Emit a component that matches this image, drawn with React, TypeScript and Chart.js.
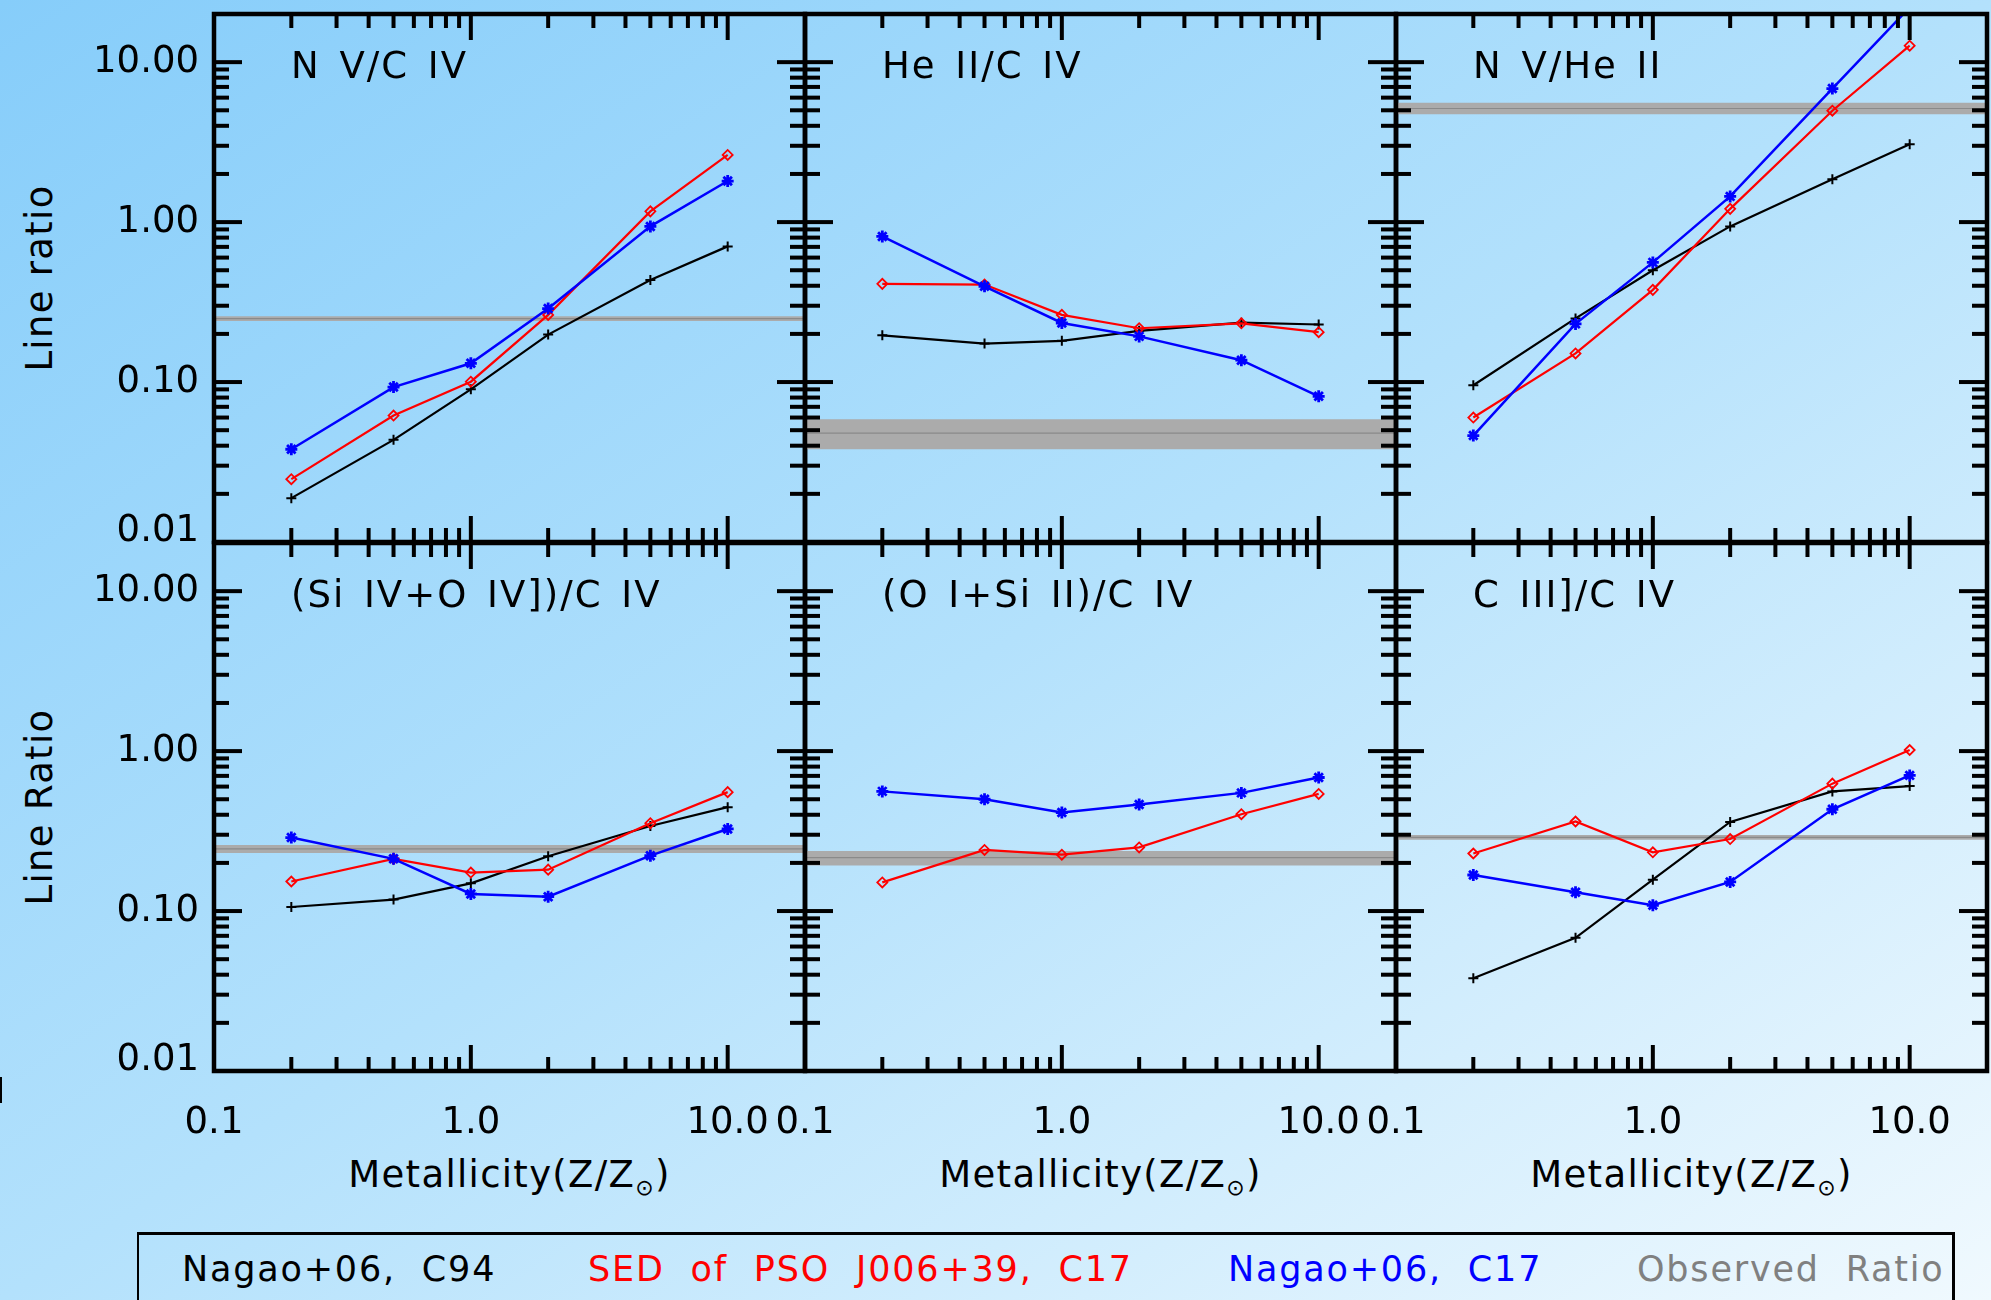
import React, { useEffect, useRef } from 'react';
import { Chart, registerables } from 'chart.js';

Chart.register(...registerables);

const FONT = '"DejaVu Sans", "Noto Sans", sans-serif';
const WEIGHT = 400;

// ---------- data ----------
const METALLICITY = [0.2, 0.5, 1.0, 2.0, 5.0, 10.0];

const X_MIN = 0.1;
const X_MAX = 20;
const Y_MIN = 0.01;
const Y_MAX = 20;

const X_TICKS = [0.1, 0.2, 0.3, 0.4, 0.5, 0.6, 0.7, 0.8, 0.9, 1, 2, 3, 4, 5, 6, 7, 8, 9, 10];
const X_MAJOR = [0.1, 1, 10];
const X_MAJOR_LABELS = ['0.1', '1.0', '10.0'];

const Y_TICKS = [
  0.01, 0.02, 0.03, 0.04, 0.05, 0.06, 0.07, 0.08, 0.09,
  0.1, 0.2, 0.3, 0.4, 0.5, 0.6, 0.7, 0.8, 0.9,
  1, 2, 3, 4, 5, 6, 7, 8, 9, 10,
];
const Y_MAJOR = [0.01, 0.1, 1, 10];
const Y_MAJOR_LABELS = ['0.01', '0.10', '1.00', '10.00'];

const PANEL_TITLES = [
  'N V/C IV',
  'He II/C IV',
  'N V/He II',
  '(Si IV+O IV])/C IV',
  '(O I+Si II)/C IV',
  'C III]/C IV',
];

const X_TITLE = 'Metallicity(Z/Z';
const Y_TITLES = ['Line ratio', 'Line Ratio'];

const LEGEND_LABELS = ['Nagao+06, C94', 'SED of PSO J006+39, C17', 'Nagao+06, C17', 'Observed Ratio'];
const LEGEND_COLORS = ['#000000', '#ff0000', '#0000ff', '#808080'];

// Nagao+06, C94 (black)
const C94_NV_CIV = [0.0188, 0.0435, 0.090, 0.198, 0.435, 0.705];
const C94_HEII_CIV = [0.196, 0.174, 0.181, 0.209, 0.235, 0.229];
const C94_NV_HEII = [0.0955, 0.25, 0.50, 0.94, 1.85, 3.07];
const C94_SIO_CIV = [0.106, 0.118, 0.149, 0.22, 0.34, 0.446];
const C94_CIII_CIV = [0.038, 0.068, 0.157, 0.361, 0.56, 0.604];

// SED of PSO J006+39, C17 (red)
const SED_NV_CIV = [0.0247, 0.0617, 0.1005, 0.263, 1.167, 2.63];
const SED_HEII_CIV = [0.411, 0.407, 0.263, 0.217, 0.233, 0.205];
const SED_NV_HEII = [0.060, 0.151, 0.377, 1.21, 4.97, 12.67];
const SED_SIO_CIV = [0.153, 0.212, 0.174, 0.1815, 0.354, 0.554];
const SED_OSI_CIV = [0.151, 0.241, 0.225, 0.25, 0.403, 0.54];
const SED_CIII_CIV = [0.229, 0.363, 0.233, 0.282, 0.626, 1.016];

// Nagao+06, C17 (blue)
const C17_NV_CIV = [0.038, 0.093, 0.131, 0.288, 0.94, 1.806];
const C17_HEII_CIV = [0.814, 0.397, 0.234, 0.193, 0.137, 0.0814];
const C17_NV_HEII = [0.0463, 0.231, 0.56, 1.448, 6.84, 22];
const C17_SIO_CIV = [0.288, 0.212, 0.128, 0.123, 0.222, 0.326];
const C17_OSI_CIV = [0.56, 0.50, 0.413, 0.463, 0.548, 0.684];
const C17_CIII_CIV = [0.168, 0.131, 0.1086, 0.152, 0.433, 0.705];

// Observed ratio: [low, mid, high]
const OBS_NV_CIV = [0.241, 0.249, 0.2575];
const OBS_HEII_CIV = [0.038, 0.048, 0.0586];
const OBS_NV_HEII = [4.72, 5.13, 5.57];
const OBS_SIO_CIV = [0.231, 0.245, 0.259];
const OBS_OSI_CIV = [0.193, 0.216, 0.237];
const OBS_CIII_CIV = [0.2795, 0.289, 0.2987];

const PANELS = [
  { title: PANEL_TITLES[0], c94: C94_NV_CIV, sed: SED_NV_CIV, c17: C17_NV_CIV, obs: OBS_NV_CIV },
  { title: PANEL_TITLES[1], c94: C94_HEII_CIV, sed: SED_HEII_CIV, c17: C17_HEII_CIV, obs: OBS_HEII_CIV },
  { title: PANEL_TITLES[2], c94: C94_NV_HEII, sed: SED_NV_HEII, c17: C17_NV_HEII, obs: OBS_NV_HEII },
  { title: PANEL_TITLES[3], c94: C94_SIO_CIV, sed: SED_SIO_CIV, c17: C17_SIO_CIV, obs: OBS_SIO_CIV },
  { title: PANEL_TITLES[4], c94: null, sed: SED_OSI_CIV, c17: C17_OSI_CIV, obs: OBS_OSI_CIV },
  { title: PANEL_TITLES[5], c94: C94_CIII_CIV, sed: SED_CIII_CIV, c17: C17_CIII_CIV, obs: OBS_CIII_CIV },
];

// ---------- layout ----------
const PANEL_LEFT = [214, 805, 1396];
const PANEL_TOP = [14, 543];
const PANEL_W = 591;
const PANEL_H = 528;
const M = 140;

const findIdx = (arr: number[], v: number) => arr.findIndex((m) => Math.abs(m - v) / m < 1e-6);

const idlPlugin = {
  id: 'idl',
  afterDatasetsDraw(chart: any, _args: any, opts: any) {
    const { ctx, chartArea: a } = chart;
    const xs = chart.scales.x;
    const ys = chart.scales.y;
    ctx.save();
    ctx.strokeStyle = '#000';
    ctx.lineCap = 'butt';
    ctx.lineWidth = 4;
    const seg = (x1: number, y1: number, x2: number, y2: number) => {
      ctx.beginPath();
      ctx.moveTo(x1, y1);
      ctx.lineTo(x2, y2);
      ctx.stroke();
    };
    for (const t of xs.ticks) {
      const px = xs.getPixelForValue(t.value);
      const len = findIdx(X_MAJOR, t.value) >= 0 ? 26 : 14;
      seg(px, a.bottom, px, a.bottom - len);
      seg(px, a.top, px, a.top + len);
    }
    for (const t of ys.ticks) {
      const py = ys.getPixelForValue(t.value);
      const len = findIdx(Y_MAJOR, t.value) >= 0 ? 28 : 15;
      seg(a.left, py, a.left + len, py);
      seg(a.right, py, a.right - len, py);
    }
    ctx.lineWidth = 4.5;
    ctx.strokeRect(a.left, a.top, a.right - a.left, a.bottom - a.top);
    ctx.fillStyle = '#000';
    ctx.font = `${WEIGHT} 37px ${FONT}`;
    ctx.textBaseline = 'alphabetic';
    ctx.textAlign = 'left';
    try { (ctx as any).letterSpacing = '2px'; (ctx as any).wordSpacing = '5px'; } catch (e) {}
    ctx.fillText(opts.title, a.left + 77, a.top + 64);
    ctx.restore();
  },
};

function Panel({ index }: { index: number }) {
  const ref = useRef<HTMLCanvasElement>(null);
  const col = index % 3;
  const row = Math.floor(index / 3);
  const cw = PANEL_W + 2 * M;
  const ch = PANEL_H + 2 * M;

  useEffect(() => {
    const p = PANELS[index];
    const pts = (arr: number[]) => METALLICITY.map((x, i) => ({ x, y: arr[i] }));
    const span = (v: number) => [{ x: X_MIN, y: v }, { x: X_MAX, y: v }];
    const datasets: any[] = [
      {
        label: LEGEND_LABELS[2], data: pts(p.c17), borderColor: '#0000ff', borderWidth: 2.5,
        pointStyle: 'star', pointRadius: 6, pointBorderWidth: 2.8, pointBorderColor: '#0000ff',
        pointBackgroundColor: '#0000ff', order: 1, fill: false,
      },
      {
        label: LEGEND_LABELS[1], data: pts(p.sed), borderColor: '#ff0000', borderWidth: 2.2,
        pointStyle: 'rectRot', pointRadius: 5, pointBorderWidth: 1.8, pointBorderColor: '#ff0000',
        pointBackgroundColor: 'rgba(0,0,0,0)', order: 2, fill: false,
      },
    ];
    if (p.c94) {
      datasets.push({
        label: LEGEND_LABELS[0], data: pts(p.c94), borderColor: '#000000', borderWidth: 2.2,
        pointStyle: 'cross', pointRadius: 5, pointBorderWidth: 2, pointBorderColor: '#000000',
        order: 3, fill: false,
      });
    }
    const lowIdx = datasets.length;
    datasets.push({
      label: 'obs-low', data: span(p.obs[0]), borderWidth: 0, borderColor: 'rgba(0,0,0,0)',
      pointRadius: 0, order: 10, fill: false,
    });
    datasets.push({
      label: LEGEND_LABELS[3], data: span(p.obs[2]), borderWidth: 0, borderColor: 'rgba(0,0,0,0)',
      backgroundColor: '#ababab', pointRadius: 0, order: 9, fill: lowIdx,
    });
    datasets.push({
      label: 'obs-mid', data: span(p.obs[1]), borderWidth: 1.2, borderColor: '#8a8a8a',
      pointRadius: 0, order: 8, fill: false,
    });

    const showX = row === 1;
    const showY = col === 0;

    const chart = new Chart(ref.current as HTMLCanvasElement, {
      type: 'line',
      data: { datasets },
      options: {
        animation: false,
        responsive: false,
        events: [],
        layout: { padding: { left: 0, top: M, right: M, bottom: 0 } },
        plugins: {
          legend: { display: false },
          tooltip: { enabled: false },
          idl: { title: p.title },
        } as any,
        scales: {
          x: {
            type: 'logarithmic',
            min: X_MIN,
            max: X_MAX,
            grid: { display: false, drawTicks: false },
            border: { display: false },
            afterBuildTicks: (s: any) => { s.ticks = X_TICKS.map((v) => ({ value: v })); },
            afterFit: (s: any) => {
              s.height = M;
              s.paddingLeft = 0; s.paddingRight = 0; s.paddingTop = 0; s.paddingBottom = 0;
            },
            ticks: {
              display: showX,
              autoSkip: false,
              maxRotation: 0,
              minRotation: 0,
              padding: 30,
              color: '#000',
              font: { family: FONT, size: 37, weight: WEIGHT },
              callback: (v: any) => {
                const i = findIdx(X_MAJOR, Number(v));
                return i >= 0 ? X_MAJOR_LABELS[i] : '';
              },
            },
          },
          y: {
            type: 'logarithmic',
            min: Y_MIN,
            max: Y_MAX,
            grid: { display: false, drawTicks: false },
            border: { display: false },
            afterBuildTicks: (s: any) => { s.ticks = Y_TICKS.map((v) => ({ value: v })); },
            afterFit: (s: any) => {
              s.width = M;
              s.paddingLeft = 0; s.paddingRight = 0; s.paddingTop = 0; s.paddingBottom = 0;
            },
            ticks: {
              display: showY,
              autoSkip: false,
              padding: 15,
              color: '#000',
              font: { family: FONT, size: 37, weight: WEIGHT, lineHeight: 0.6 },
              callback: (v: any) => {
                const i = findIdx(Y_MAJOR, Number(v));
                if (i < 0) return '';
                // the lowest label sits raised above its tick, as in the original
                return i === 0 ? [Y_MAJOR_LABELS[i], ''] : Y_MAJOR_LABELS[i];
              },
            },
          },
        } as any,
      },
      plugins: [idlPlugin],
    } as any);
    return () => chart.destroy();
  }, [index]);

  return (
    <canvas
      ref={ref}
      width={cw}
      height={ch}
      style={{ position: 'absolute', left: PANEL_LEFT[col] - M, top: PANEL_TOP[row] - M, width: cw, height: ch }}
    />
  );
}

export default function App() {
  useEffect(() => {
    document.body.style.margin = '0';
  }, []);

  const textBase: React.CSSProperties = {
    position: 'absolute',
    fontFamily: FONT,
    fontWeight: WEIGHT,
    whiteSpace: 'nowrap',
    lineHeight: 1,
  };

  return (
    <div
      style={{
        position: 'fixed',
        left: 0,
        top: 0,
        width: 1991,
        height: 1300,
        overflow: 'hidden',
        background: 'linear-gradient(to bottom right, #86cdfa 0%, #b3e1fc 50%, #f0f9fe 100%)',
      }}
    >
      {/* y-axis titles */}
      {Y_TITLES.map((t, r) => (
        <div
          key={t}
          style={{
            ...textBase,
            fontSize: 37,
            letterSpacing: '1.3px',
            left: 39,
            top: PANEL_TOP[r] + PANEL_H / 2,
            transform: 'translate(-50%, -50%) rotate(-90deg)',
            color: '#000',
          }}
        >
          {t}
        </div>
      ))}

      {/* x-axis titles */}
      {PANEL_LEFT.map((l, c) => (
        <div
          key={c}
          style={{
            ...textBase,
            fontSize: 37,
            letterSpacing: '1.3px',
            left: l + PANEL_W / 2,
            top: 1187 - 31.3,
            transform: 'translateX(-50%)',
            color: '#000',
          }}
        >
          {X_TITLE}
          <span style={{ fontSize: 22, position: 'relative', top: 8 }}>⊙</span>)
        </div>
      ))}

      {/* stray mark on left edge */}
      <div style={{ position: 'absolute', left: 0, top: 1077, width: 2, height: 26, background: '#000' }} />

      {/* legend box */}
      <div
        style={{
          position: 'absolute',
          left: 137,
          top: 1232,
          width: 1818,
          height: 120,
          boxSizing: 'border-box',
          borderTop: '3px solid #000',
          borderLeft: '2px solid #000',
          borderRight: '3px solid #000',
        }}
      />
      {LEGEND_LABELS.map((t, i) => (
        <div
          key={t}
          style={{
            ...textBase,
            fontSize: 35,
            letterSpacing: '1.8px',
            wordSpacing: '13px',
            left: [182, 588, 1228, 1637][i],
            top: 1282 - 29.6,
            color: LEGEND_COLORS[i],
          }}
        >
          {t}
        </div>
      ))}

      {PANELS.map((_, i) => (
        <Panel key={i} index={i} />
      ))}
    </div>
  );
}
